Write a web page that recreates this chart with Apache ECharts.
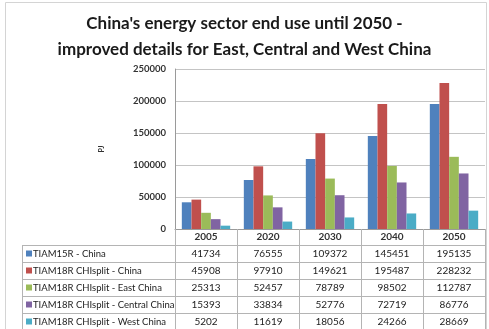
<!DOCTYPE html>
<html>
<head>
<meta charset="utf-8">
<script src="https://cdn.jsdelivr.net/npm/echarts@6/dist/echarts.min.js"></script>
<style>
  html, body { margin: 0; padding: 0; background: #fff; }
  #chart { width: 489px; height: 329px; }
</style>
</head>
<body>
<div id="chart"></div>
<script>
// ---- data ----
const years = ['2005', '2020', '2030', '2040', '2050'];
const seriesNames = [
  'TIAM15R - China',
  'TIAM18R CHIsplit - China',
  'TIAM18R CHIsplit - East China',
  'TIAM18R CHIsplit - Central China',
  'TIAM18R CHIsplit - West China'
];
const tiam15China   = [41734, 76555, 109372, 145451, 195135];
const tiam18China   = [45908, 97910, 149621, 195487, 228232];
const tiam18East    = [25313, 52457, 78789, 98502, 112787];
const tiam18Central = [15393, 33834, 52776, 72719, 86776];
const tiam18West    = [5202, 11619, 18056, 24266, 28669];
const yTicks = [0, 50000, 100000, 150000, 200000, 250000];

// ---- styling ----
const colors = ['#4F81BD', '#C0504D', '#9BBB59', '#8064A2', '#4BACC6'];
const FONT = 'Lato';
const tableLine = '#b4b4b4';
const allSeries = [tiam15China, tiam18China, tiam18East, tiam18Central, tiam18West];

const gridLeft = 175, gridRight = 4, gridTop = 69, gridBottom = 100;
const H = 329;
const axisY = H - gridBottom;     // 229
const headerH = 16, rowH = 17;
const tableLeft = 22;

const xAxes = [{
  type: 'category',
  data: years,
  gridIndex: 0,
  position: 'bottom',
  axisLine: { show: true, lineStyle: { color: '#9a9a9a' } },
  axisTick: { show: true, length: headerH, alignWithLabel: false, interval: 0, lineStyle: { color: tableLine } },
  axisLabel: { fontFamily: FONT, fontSize: 10, fontWeight: 'bold', color: '#333', margin: 3, interval: 0 }
}];
allSeries.forEach((vals, k) => {
  xAxes.push({
    type: 'category',
    data: vals.map(String),
    gridIndex: 0,
    position: 'bottom',
    offset: headerH + k * rowH,
    axisLine: { show: true, lineStyle: { color: tableLine } },
    axisTick: { show: true, length: rowH, alignWithLabel: false, interval: 0, lineStyle: { color: tableLine } },
    axisLabel: { fontFamily: FONT, fontSize: 10, color: '#222', margin: 4, interval: 0 }
  });
});
xAxes.push({
  type: 'category',
  data: years.map(() => ''),
  gridIndex: 0,
  position: 'bottom',
  offset: headerH + 5 * rowH - 1,
  axisLine: { show: true, lineStyle: { color: tableLine } },
  axisTick: { show: false },
  axisLabel: { show: false }
});

// left header column of the data table
const graphics = [{
  type: 'rect',
  shape: { x: 5.5, y: 2.5, width: 481, height: 340 },
  style: { fill: 'none', stroke: '#d4d4d4', lineWidth: 1 },
  silent: true
}];
for (let k = 0; k <= 5; k++) {
  const y = axisY + headerH + k * rowH - (k === 5 ? 1 : 0) + 0.5;
  graphics.push({
    type: 'line',
    shape: { x1: tableLeft, y1: y, x2: gridLeft, y2: y },
    style: { stroke: tableLine, lineWidth: 1 },
    silent: true
  });
}
graphics.push({
  type: 'line',
  shape: { x1: tableLeft + 0.5, y1: axisY + headerH, x2: tableLeft + 0.5, y2: H },
  style: { stroke: tableLine, lineWidth: 1 },
  silent: true
});
seriesNames.forEach((name, k) => {
  const cy = axisY + headerH + k * rowH + rowH / 2;
  graphics.push({
    type: 'rect',
    shape: { x: tableLeft + 4, y: cy - 3, width: 6, height: 6 },
    style: { fill: colors[k] },
    silent: true
  });
  graphics.push({
    type: 'text',
    x: tableLeft + 11,
    y: cy,
    style: { text: name, fontFamily: FONT, fontSize: 9.5, fill: '#222', textVerticalAlign: 'middle', verticalAlign: 'middle' },
    silent: true
  });
});

const chart = echarts.init(document.getElementById('chart'), null, { renderer: 'canvas' });
chart.setOption({
  animation: false,
  backgroundColor: '#fff',
  color: colors,
  title: {
    text: "China's energy sector end use until 2050 -\nimproved details for East, Central and West China",
    left: 'center',
    top: 6,
    textStyle: { fontFamily: FONT, fontSize: 17, fontWeight: 'bold', color: '#1a1a1a', lineHeight: 26 }
  },
  grid: { left: gridLeft, right: gridRight, top: gridTop, bottom: gridBottom, containLabel: false },
  xAxis: xAxes,
  yAxis: {
    type: 'value',
    min: yTicks[0],
    max: yTicks[yTicks.length - 1],
    interval: yTicks[1] - yTicks[0],
    name: 'PJ',
    nameLocation: 'middle',
    nameRotate: 90,
    nameGap: 70,
    nameTextStyle: { fontFamily: FONT, fontSize: 7, fontWeight: 'bold', color: '#333' },
    axisLine: { show: true, lineStyle: { color: '#9a9a9a' } },
    axisTick: { show: false },
    axisLabel: { fontFamily: FONT, fontSize: 9.5, fontWeight: 'bold', color: '#333', margin: 9, formatter: v => String(v) },
    splitLine: { show: true, lineStyle: { color: '#c4c4c4' } }
  },
  series: allSeries.map((vals, k) => ({
    name: seriesNames[k],
    type: 'bar',
    xAxisIndex: 0,
    data: vals,
    barGap: '0%',
    barCategoryGap: '22%',
    itemStyle: { color: colors[k] }
  })),
  graphic: graphics
});
</script>
</body>
</html>
